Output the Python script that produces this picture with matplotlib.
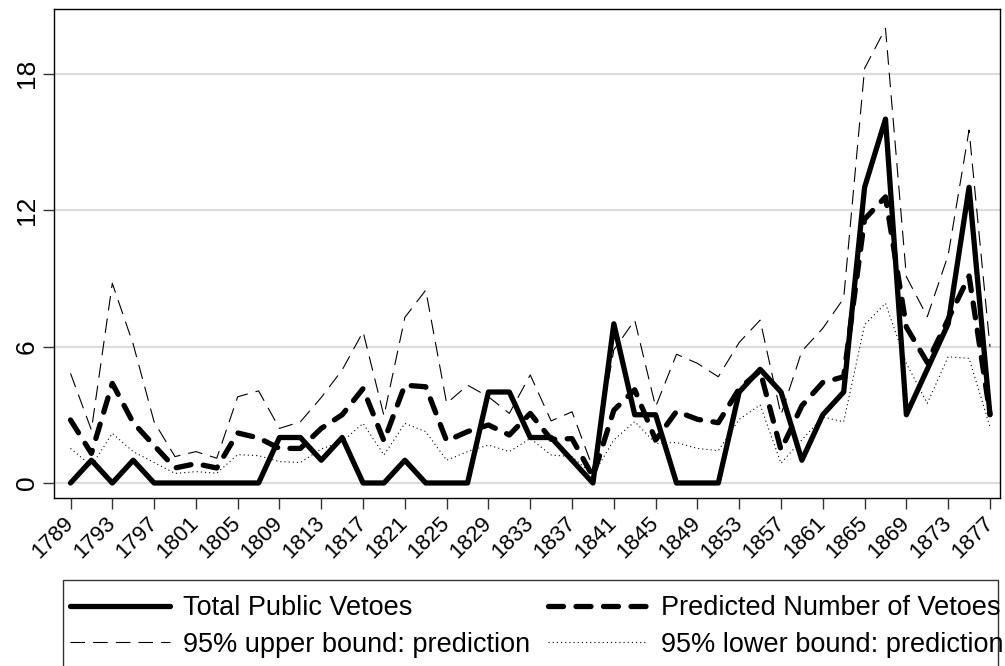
import matplotlib
matplotlib.use("Agg")
import matplotlib.pyplot as plt
from matplotlib.patches import Rectangle

plt.rcParams['font.family'] = ['Liberation Sans', 'DejaVu Sans']
plt.rcParams['lines.scale_dashes'] = False

# Congress start years
years = list(range(1789, 1879, 2))

total_vetoes = [0, 1, 0, 1, 0, 0, 0, 0, 0, 0,
                2, 2, 1, 2, 0, 0, 1, 0, 0, 0,
                4, 4, 2, 2, 1, 0, 7, 3, 3, 0,
                0, 0, 4, 5, 4, 1, 3, 4, 13, 16,
                3, 5, 7, 13, 3]

predicted = [2.77, 1.3, 4.38, 2.65, 1.65, 0.66, 0.85, 0.66, 2.2, 1.98,
             1.52, 1.52, 2.4, 3.0, 4.15, 1.85, 4.3, 4.23, 1.85, 2.26,
             2.55, 2.11, 3.06, 1.92, 1.95, 0.28, 3.2, 4.1, 1.89, 3.15,
             2.8, 2.65, 4.15, 4.93, 1.45, 3.4, 4.42, 4.67, 11.6, 12.58,
             6.85, 5.3, 7.2, 9.1, 3.03]

upper_bound = [4.82, 2.33, 8.78, 6.1, 2.69, 1.16, 1.38, 1.09, 3.79, 4.05,
               2.4, 2.69, 3.76, 4.97, 6.65, 2.95, 7.28, 8.48, 3.5, 4.3,
               3.79, 3.06, 4.75, 2.73, 3.13, 0.65, 5.85, 7.16, 3.35, 5.66,
               5.26, 4.67, 6.18, 7.16, 3.0, 5.8, 6.8, 8.12, 18.23, 19.99,
               9.07, 7.31, 10.02, 15.52, 5.99]

lower_bound = [1.52, 0.75, 2.18, 1.38, 0.9, 0.42, 0.5, 0.43, 1.25, 1.2,
               0.94, 0.9, 1.5, 1.82, 2.62, 1.23, 2.62, 2.26, 1.0, 1.38,
               1.67, 1.38, 1.96, 1.23, 1.16, 0.35, 1.89, 2.7, 1.74, 1.78,
               1.52, 1.42, 2.8, 3.43, 0.87, 1.9, 2.9, 2.69, 6.95, 7.9,
               5.26, 3.5, 5.55, 5.48, 2.47]

xticks = list(range(1789, 1878, 4))
yticks = [0, 6, 12, 18]

fig = plt.figure(figsize=(10.05, 6.66), dpi=100)
ax = fig.add_axes([54 / 1005, 1 - 498 / 666, (1000 - 54) / 1005, (498 - 9) / 666])

for y in yticks:
    ax.axhline(y, color='#dcdcdc', lw=1.6, zorder=0)

l_total, = ax.plot(years, total_vetoes, color='black', lw=3.8,
                   solid_joinstyle='round', solid_capstyle='round', zorder=4)
l_pred, = ax.plot(years, predicted, color='black', lw=3.8,
                  linestyle=(0, (10.8, 9.0)), dash_capstyle='round',
                  dash_joinstyle='round', zorder=3)
l_up, = ax.plot(years, upper_bound, color='black', lw=0.8,
                linestyle=(0, (10.5, 5.8)), zorder=2)
l_lo, = ax.plot(years, lower_bound, color='black', lw=0.8,
                linestyle=(0, (0.8, 2.2)), zorder=2)

ax.set_xlim(1787.42, 1877.96)
ax.set_ylim(-0.66, 20.84)
ax.set_xticks(xticks)
ax.set_xticklabels([str(v) for v in xticks], rotation=45, ha='right',
                   va='center', rotation_mode='anchor', fontsize=16)
ax.set_yticks(yticks)
ax.set_yticklabels([str(v) for v in yticks], rotation=90, va='center',
                   fontsize=19)
ax.tick_params(axis='both', direction='out', length=8, width=1, color='#333333')
ax.tick_params(axis='x', pad=8)
ax.tick_params(axis='y', pad=3)
for s in ax.spines.values():
    s.set_linewidth(1.0)
    s.set_color('black')

# Legend box running past the lower figure edge
fig.patches.append(Rectangle((62.7 / 1005, -0.1), (998 - 62.7) / 1005,
                             1 - 580 / 666 + 0.1, transform=fig.transFigure,
                             facecolor='white', edgecolor='#333333', lw=1.0,
                             clip_on=False, zorder=1))

handles = [l_total, l_up, l_pred, l_lo]
labels = ['Total Public Vetoes', '95% upper bound: prediction',
          'Predicted Number of Vetoes', '95% lower bound: prediction']
leg = fig.legend(handles, labels, ncol=2, loc='upper left',
                 bbox_to_anchor=(70 / 1005, 1 - 595 / 666), frameon=False,
                 fontsize=19.5, handlelength=3.7, handletextpad=0.48,
                 columnspacing=0.65, labelspacing=0.39, borderpad=0.0,
                 borderaxespad=0.0)
leg.set_zorder(5)

fig.savefig('out.png', dpi=100)
